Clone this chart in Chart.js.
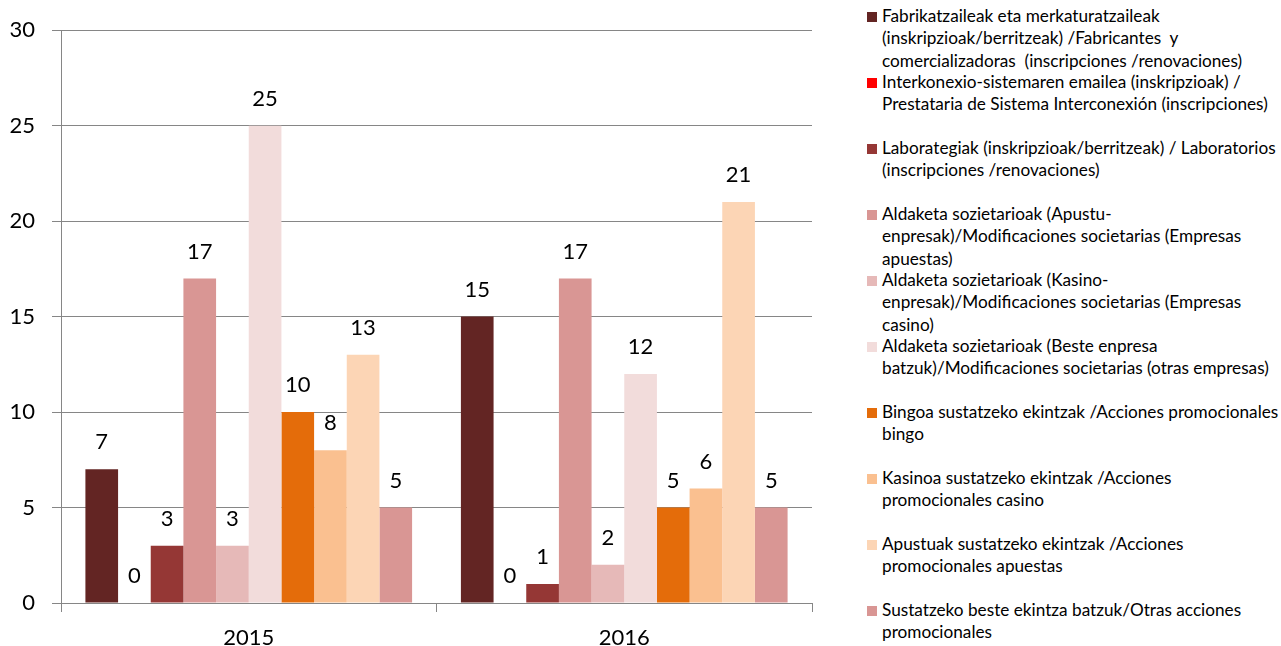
<!DOCTYPE html>
<html>
<head>
  <meta charset="UTF-8">
  <title>Ekintzak</title>
  <script src="https://cdn.jsdelivr.net/npm/chart.js"></script>
  <style>
    body { margin: 0; background: #fff; font-family: Lato, sans-serif; }
    #wrap { position: absolute; left: 0; top: 0; width: 820px; height: 646px; }
    #legend { position: absolute; left: 867px; top: 6px; width: 414px; }
    .item { position: relative; height: 66px; }
    .box { position: absolute; left: 0; top: 6px; width: 10px; height: 10px; }
    .txt { position: absolute; left: 15px; top: -1px; white-space: pre; font-size: 17.2px; line-height: 22.3px; color: #000; }
  </style>
</head>
<body>
  <div id="wrap"><canvas id="barChart"></canvas></div>
  <div id="legend"></div>
  <script>
    const years = ["2015", "2016"];

    const seriesNames = [
      "Fabrikatzaileak eta merkaturatzaileak\n(inskripzioak/berritzeak) /Fabricantes  y\ncomercializadoras  (inscripciones /renovaciones)",
      "Interkonexio-sistemaren emailea (inskripzioak) /\nPrestataria de Sistema Interconexión (inscripciones)",
      "Laborategiak (inskripzioak/berritzeak) / Laboratorios\n(inscripciones /renovaciones)",
      "Aldaketa sozietarioak (Apustu-\nenpresak)/Modificaciones societarias (Empresas\napuestas)",
      "Aldaketa sozietarioak (Kasino-\nenpresak)/Modificaciones societarias (Empresas\ncasino)",
      "Aldaketa sozietarioak (Beste enpresa\nbatzuk)/Modificaciones societarias (otras empresas)",
      "Bingoa sustatzeko ekintzak /Acciones promocionales\nbingo",
      "Kasinoa sustatzeko ekintzak /Acciones\npromocionales casino",
      "Apustuak sustatzeko ekintzak /Acciones\npromocionales apuestas",
      "Sustatzeko beste ekintza batzuk/Otras acciones\npromocionales"
    ];

    const values2015 = [7, 0, 3, 17, 3, 25, 10, 8, 13, 5];
    const values2016 = [15, 0, 1, 17, 2, 12, 5, 6, 21, 5];

    const seriesColors = [
      "#632523", "#FF0000", "#953735", "#D99694", "#E6B9B8",
      "#F2DCDB", "#E46C0A", "#FAC090", "#FCD5B5", "#D99694"
    ];

    const yTicks = [0, 5, 10, 15, 20, 25, 30];

    const gridColor = "#868686";
    const font = "Lato, sans-serif";

    // draws the value above each bar
    const valueLabels = {
      id: "valueLabels",
      afterDatasetsDraw(chart) {
        const ctx = chart.ctx;
        ctx.save();
        ctx.font = "22px " + font;
        ctx.fillStyle = "#000";
        ctx.textAlign = "center";
        ctx.textBaseline = "middle";
        chart.data.datasets.forEach((ds, i) => {
          chart.getDatasetMeta(i).data.forEach((bar, j) => {
            ctx.fillText(String(ds.data[j]), bar.x, bar.y - 27);
          });
        });
        ctx.restore();
      }
    };

    const datasets = seriesNames.map((name, i) => ({
      label: name,
      data: [values2015[i], values2016[i]],
      backgroundColor: seriesColors[i],
      borderWidth: 0,
      barPercentage: 1.0,
      categoryPercentage: 0.87
    }));

    const chart = new Chart(document.getElementById("barChart"), {
      type: "bar",
      data: { labels: years, datasets: datasets },
      options: {
        responsive: true,
        maintainAspectRatio: false,
        animation: false,
        layout: { padding: { top: 26, right: 8, left: 0, bottom: 0 } },
        plugins: {
          legend: { display: false },
          tooltip: { enabled: false }
        },
        scales: {
          x: {
            afterFit: (s) => { s.height = 43; },
            grid: {
              offset: true,
              drawOnChartArea: false,
              tickLength: 9,
              color: gridColor
            },
            border: { color: gridColor },
            ticks: { font: { family: font, size: 22 }, color: "#000", padding: 13 }
          },
          y: {
            min: 0,
            max: 30,
            afterFit: (s) => { s.width = 61; },
            afterBuildTicks: (s) => { s.ticks = yTicks.map(v => ({ value: v })); },
            grid: { color: gridColor, tickLength: 9 },
            border: { color: gridColor },
            ticks: { font: { family: font, size: 22 }, color: "#000", padding: 17 }
          }
        }
      },
      plugins: [valueLabels]
    });

    // html legend so long labels can wrap like the original
    const legend = document.getElementById("legend");
    chart.data.datasets.forEach((ds) => {
      const item = document.createElement("div");
      item.className = "item";
      const box = document.createElement("span");
      box.className = "box";
      box.style.background = ds.backgroundColor;
      const txt = document.createElement("span");
      txt.className = "txt";
      txt.textContent = ds.label;
      item.appendChild(box);
      item.appendChild(txt);
      legend.appendChild(item);
    });
  </script>
</body>
</html>
